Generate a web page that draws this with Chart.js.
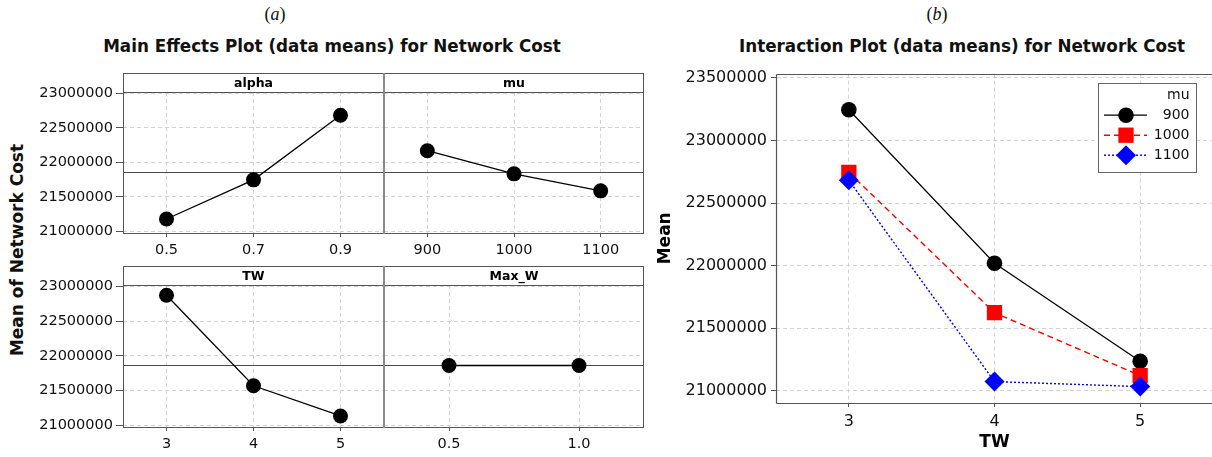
<!DOCTYPE html>
<html>
<head>
<meta charset="utf-8">
<script src="https://cdn.jsdelivr.net/npm/chart.js@4.4.1/dist/chart.umd.min.js"></script>
<style>
  html, body { margin: 0; padding: 0; background: #fff; overflow: hidden; width: 1212px; height: 457px; }
  body { position: relative; font-family: "DejaVu Sans", sans-serif; color: #111; }
  canvas { position: absolute; }
  .cap  { position: absolute; font-family: "Liberation Serif", serif; font-size: 18px; transform: translate(-50%, -50%); white-space: nowrap; }
  .ttl  { position: absolute; font-weight: bold; font-size: 16.8px; transform: translate(-50%, -50%); white-space: nowrap; }
  .ylab { position: absolute; font-weight: bold; font-size: 17px; transform: translate(-50%, -50%) rotate(-90deg); white-space: nowrap; }
</style>
</head>
<body>
<div class="cap" style="left:275px;top:14px">(<i>a</i>)</div>
<div class="cap" style="left:937px;top:14px">(<i>b</i>)</div>
<div class="ttl" style="left:332px;top:46px">Main Effects Plot (data means) for Network Cost</div>
<div class="ttl" style="left:962px;top:46px">Interaction Plot (data means) for Network Cost</div>
<div class="ylab" style="left:17px;top:250px">Mean of Network Cost</div>

<canvas id="cAlpha" width="390" height="199" style="left:0;top:60px"></canvas>
<canvas id="cMu"    width="272" height="199" style="left:378px;top:60px"></canvas>
<canvas id="cTW"    width="390" height="200" style="left:0;top:253px"></canvas>
<canvas id="cMaxW"  width="272" height="200" style="left:378px;top:253px"></canvas>
<canvas id="cInter" width="573" height="397" style="left:640px;top:60px"></canvas>

<script>
// ─── Data ─────────────────────────────────────────────────────────────────────

const ME_Y_TICKS  = [21000000, 21500000, 22000000, 22500000, 23000000];
const GRAND_MEAN  = 21860000;

const ALPHA_LEVELS = ["0.5", "0.7", "0.9"];
const ALPHA_MEANS  = [21178000, 21745000, 22682000];
const MU_LEVELS    = ["900", "1000", "1100"];
const MU_MEANS     = [22167000, 21832000, 21586000];
const TW_LEVELS    = ["3", "4", "5"];
const TW_MEANS     = [22870000, 21568000, 21134000];
const MAXW_LEVELS  = ["0.5", "1.0"];
const MAXW_MEANS   = [21860000, 21860000];

const INT_Y_TICKS = [21000000, 21500000, 22000000, 22500000, 23000000, 23500000];
const MU_900      = [23245000, 22019000, 21237000];
const MU_1000     = [22745000, 21624000, 21122000];
const MU_1100     = [22682000, 21074000, 21034000];

// ─── Style ────────────────────────────────────────────────────────────────────

const SANS        = "'DejaVu Sans', sans-serif";
const GRID_COLOR  = "#d3d3d3";
const FRAME_COLOR = "#555";
const TEXT_COLOR  = "#111";
const HEADER_H    = 19;

// ─── Plugins ──────────────────────────────────────────────────────────────────

const line = (ctx, x1, y1, x2, y2) => {
  ctx.beginPath(); ctx.moveTo(x1, y1); ctx.lineTo(x2, y2); ctx.stroke();
};

const panelFrame = {
  id: "panelFrame",
  beforeDatasetsDraw(chart, _a, opts) {
    const { ctx, chartArea: a, scales } = chart;
    const py = Math.round(scales.y.getPixelForValue(opts.mean)) + 0.5;
    ctx.save();
    ctx.strokeStyle = "#4a4a4a";
    ctx.lineWidth = 1;
    line(ctx, a.left, py, a.right, py);
    ctx.restore();
  },
  afterDraw(chart, _a, opts) {
    const { ctx, chartArea: a } = chart;
    const L = Math.round(a.left) + 0.5, R = Math.round(a.right) - 0.5;
    const T = Math.round(a.top - HEADER_H) + 0.5, B = Math.round(a.bottom) + 0.5;
    const H = Math.round(a.top) + 0.5;
    ctx.save();
    ctx.fillStyle = "#fff";
    ctx.fillRect(L, T, R - L, H - T);
    ctx.strokeStyle = FRAME_COLOR;
    ctx.lineWidth = 1;
    ctx.strokeRect(L, T, R - L, B - T);
    line(ctx, L, H, R, H);
    if (opts.divider) {
      ctx.strokeStyle = "#8a8a8a";
      ctx.lineWidth = 2;
      line(ctx, Math.round(a.left), T - 0.5, Math.round(a.left), B + 0.5);
    }
    ctx.fillStyle = "#000";
    ctx.font = `bold 12.5px ${SANS}`;
    ctx.textAlign = "center";
    ctx.textBaseline = "middle";
    ctx.fillText(opts.name, (a.left + a.right) / 2, (T + H) / 2 + 0.5);
    ctx.restore();
  },
};

const interFrame = {
  id: "interFrame",
  afterDraw(chart, _a, opts) {
    const { ctx, chartArea: a } = chart;
    const L = Math.round(a.left) + 0.5, T = Math.round(a.top) + 0.5, B = Math.round(a.bottom) + 0.5;
    ctx.save();
    ctx.strokeStyle = FRAME_COLOR;
    ctx.lineWidth = 1.2;
    line(ctx, L, T, a.right, T);
    line(ctx, L, T, L, B);
    line(ctx, L, B, a.right, B);

    // legend box
    const x0 = a.left + 322, y0 = a.top + 9.3, w = 97.5, h = 88.5;
    ctx.fillStyle = "#fff";
    ctx.fillRect(x0, y0, w, h);
    ctx.strokeStyle = "#666";
    ctx.lineWidth = 1;
    ctx.strokeRect(Math.round(x0) + 0.5, Math.round(y0) + 0.5, Math.round(w), Math.round(h));
    ctx.font = `14px ${SANS}`;
    ctx.fillStyle = TEXT_COLOR;
    ctx.textAlign = "right";
    ctx.textBaseline = "middle";
    ctx.fillText(opts.title, x0 + w - 6, y0 + 12.5);
    chart.data.datasets.forEach((ds, i) => {
      const cy = y0 + 32.3 + i * 20;
      ctx.strokeStyle = ds.borderColor;
      ctx.lineWidth = ds.borderWidth;
      ctx.setLineDash(ds.borderDash || []);
      line(ctx, x0 + 6, cy, x0 + 49, cy);
      ctx.setLineDash([]);
      ctx.fillStyle = ds.pointBackgroundColor;
      Chart.helpers.drawPoint(ctx, { pointStyle: ds.pointStyle, radius: ds.pointRadius, borderWidth: 0, rotation: 0 }, x0 + 28, cy);
      ctx.fillStyle = TEXT_COLOR;
      ctx.fillText(ds.label, x0 + w - 6, cy);
    });
    ctx.restore();
  },
};

// ─── Main effects panels ──────────────────────────────────────────────────────

function mainEffectsPanel(id, name, labels, values, isLeft) {
  return new Chart(document.getElementById(id), {
    type: "line",
    data: {
      labels,
      datasets: [{
        data: values,
        borderColor: "#000",
        borderWidth: 1.3,
        pointRadius: 7.5,
        pointBackgroundColor: "#000",
        pointBorderWidth: 0,
        tension: 0,
      }],
    },
    options: {
      responsive: false,
      animation: false,
      layout: { autoPadding: false, padding: { top: 32, right: 6, left: isLeft ? 0 : 6, bottom: 0 } },
      plugins: {
        legend: { display: false },
        tooltip: { enabled: false },
        panelFrame: { name, mean: GRAND_MEAN, divider: !isLeft },
      },
      scales: {
        x: {
          type: "category",
          offset: true,
          grid: { offset: false, color: GRID_COLOR, tickLength: 4, tickColor: FRAME_COLOR, tickBorderDash: [] },
          border: { display: false, dash: [4, 3] },
          ticks: { font: { family: SANS, size: 14.5 }, color: TEXT_COLOR, padding: 5, maxRotation: 0 },
          afterFit: (s) => { s.height = 26; },
        },
        y: {
          min: 20975000,
          max: 23018000,
          afterBuildTicks: (s) => { s.ticks = ME_Y_TICKS.map((v) => ({ value: v })); },
          grid: { color: GRID_COLOR, drawTicks: isLeft, tickLength: 7, tickColor: FRAME_COLOR, tickBorderDash: [] },
          border: { display: false, dash: [4, 3] },
          ticks: {
            display: isLeft,
            font: { family: SANS, size: 14.5 },
            color: TEXT_COLOR,
            padding: 3,
            callback: (v) => String(v),
          },
          afterFit: (s) => { s.width = isLeft ? 123 : 0; },
        },
      },
    },
    plugins: [panelFrame],
  });
}

mainEffectsPanel("cAlpha", "alpha", ALPHA_LEVELS, ALPHA_MEANS, true);
mainEffectsPanel("cMu",    "mu",    MU_LEVELS,    MU_MEANS,    false);
mainEffectsPanel("cTW",    "TW",    TW_LEVELS,    TW_MEANS,    true);
mainEffectsPanel("cMaxW",  "Max_W", MAXW_LEVELS,  MAXW_MEANS,  false);

// ─── Interaction plot ─────────────────────────────────────────────────────────

new Chart(document.getElementById("cInter"), {
  type: "line",
  data: {
    labels: TW_LEVELS,
    datasets: [
      { label: "900",  data: MU_900,  order: 2, borderColor: "#000",    borderWidth: 1.2, borderDash: [],
        pointStyle: "circle",  pointRadius: 7.8,  pointBackgroundColor: "#000",    pointBorderWidth: 0 },
      { label: "1000", data: MU_1000, order: 1, borderColor: "#ff0000", borderWidth: 1.4, borderDash: [6, 4],
        pointStyle: "rect",    pointRadius: 10.8, pointBackgroundColor: "#ff0000", pointBorderWidth: 0 },
      { label: "1100", data: MU_1100, order: 0, borderColor: "#0000ff", borderWidth: 1.4, borderDash: [2, 2],
        pointStyle: "rectRot", pointRadius: 10,   pointBackgroundColor: "#0000ff", pointBorderWidth: 0 },
    ],
  },
  options: {
    responsive: false,
    animation: false,
    layout: { autoPadding: false, padding: { top: 11.7, right: 0, left: 0, bottom: 0 } },
    plugins: {
      legend: { display: false },
      tooltip: { enabled: false },
      interFrame: { title: "mu" },
    },
    scales: {
      x: {
        type: "category",
        offset: true,
        grid: { offset: false, color: GRID_COLOR, tickLength: 4, tickColor: FRAME_COLOR, tickBorderDash: [] },
        border: { display: false, dash: [4, 3] },
        ticks: { font: { family: SANS, size: 16 }, color: TEXT_COLOR, padding: 5, maxRotation: 0 },
        title: { display: true, text: "TW", color: "#000", font: { family: SANS, size: 17, weight: "bold" }, padding: { top: 0, bottom: 4 } },
        afterFit: (s) => { s.height = 54; },
      },
      y: {
        min: 20903000,
        max: 23534000,
        afterBuildTicks: (s) => { s.ticks = INT_Y_TICKS.map((v) => ({ value: v })); },
        grid: { color: GRID_COLOR, tickLength: 5, tickColor: FRAME_COLOR, tickBorderDash: [] },
        border: { display: false, dash: [4, 3] },
        ticks: { font: { family: SANS, size: 16 }, color: TEXT_COLOR, padding: 4, callback: (v) => String(v) },
        title: { display: true, text: "Mean", color: "#000", font: { family: SANS, size: 17, weight: "bold" }, padding: { top: 15, bottom: 0 } },
        afterFit: (s) => { s.width = 136; },
      },
    },
  },
  plugins: [interFrame],
});
</script>
</body>
</html>
